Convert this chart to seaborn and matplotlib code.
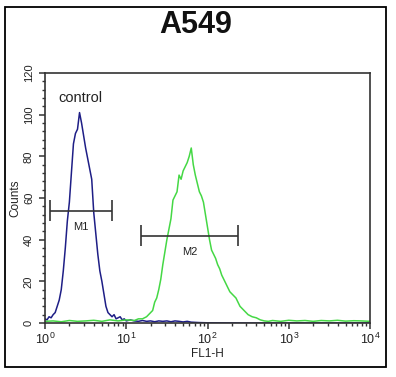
import matplotlib
matplotlib.use("Agg")
import matplotlib.pyplot as plt
import seaborn as sns
import pandas as pd
from matplotlib.patches import Rectangle
from matplotlib.ticker import FixedLocator, MultipleLocator, LogLocator, NullFormatter

# ---------------- data ----------------
title = "A549"
x_label = "FL1-H"
y_label = "Counts"
control_label = "control"

ctrl_fl = [1.000, 1.059, 1.122, 1.189, 1.259, 1.334, 1.413, 1.496, 1.585, 1.679,
           1.778, 1.884, 1.995, 2.113, 2.239, 2.371, 2.512, 2.661, 2.818, 2.985,
           3.162, 3.350, 3.548, 3.758, 3.981, 4.217, 4.467, 4.732, 5.012, 5.309,
           5.623, 5.957, 6.310, 6.683, 7.079, 7.499, 7.943, 8.414, 8.913, 9.441,
           10.00, 11.22, 12.59, 14.13, 15.85, 17.78, 19.95, 22.39, 25.12, 28.18,
           31.62, 35.48, 39.81, 44.67, 50.12, 56.23, 63.10, 79.43, 100.0, 316.2, 10000.0]
ctrl_counts = [2, 1.5, 3, 2.5, 4, 5, 8, 11, 16, 25,
               36, 49, 58, 72, 86, 91, 93, 101, 96, 90,
               84, 79, 74, 69, 53, 43, 33, 25, 20, 14,
               8, 5, 4, 3, 4, 2, 2.5, 3, 1.5, 2,
               1, 1.5, 1, 0.8, 1.2, 0.8, 1, 0.6, 1, 0.8,
               1, 0.6, 1, 0.8, 0.5, 0.8, 0.4, 0.2, 0.1, 0, 0]

samp_fl = [1.000, 1.259, 1.585, 1.995, 2.512, 3.162, 3.981, 5.012, 6.310, 7.943,
           10.00, 12.59, 14.13, 15.85, 17.78, 19.95, 21.13, 22.39, 23.71, 25.12,
           26.61, 28.18, 29.85, 31.62, 33.50, 35.48, 37.58, 39.81, 42.17, 44.67,
           47.32, 50.12, 53.09, 56.23, 59.57, 63.10, 66.83, 70.79, 74.99, 79.43,
           84.14, 89.13, 94.41, 100.0, 105.9, 112.2, 118.9, 125.9, 133.4, 141.3,
           149.6, 158.5, 167.9, 177.8, 188.4, 199.5, 211.3, 223.9, 237.1, 251.2,
           266.1, 281.8, 298.5, 316.2, 354.8, 398.1, 446.7, 501.2, 562.3, 631.0,
           794.3, 1000.0, 1259.0, 1585.0, 1995.0, 2512.0, 3162.0, 3981.0, 5012.0, 6310.0,
           7943.0, 10000.0]
samp_counts = [0.8, 1, 0.6, 1.2, 0.8, 1, 1.3, 0.8, 1.5, 1,
               1.5, 1.2, 2, 2, 3, 5, 6, 10, 12, 16,
               21, 28, 34, 40, 45, 50, 59, 61, 63, 71,
               69, 73, 75, 77, 80, 84, 76, 71, 67, 63,
               61, 58, 52, 46, 40, 35, 33, 31, 28, 26,
               23, 21, 19, 17, 15, 14, 13, 12, 10, 8,
               7, 6, 5, 4, 3, 2.5, 1.5, 1, 0.8, 1.2,
               0.8, 1.3, 1, 1.2, 0.8, 1.2, 1, 1.3, 0.9, 1.1,
               1.0, 0.8]

gate_names = ["M1", "M2"]
gate_lo = [1.15, 15.2]
gate_hi = [6.68, 237.0]
gate_y = [54, 42]

x_ticks = [1, 10, 100, 1000, 10000]
x_tick_labels = [r"$10^{0}$", r"$10^{1}$", r"$10^{2}$", r"$10^{3}$", r"$10^{4}$"]
y_ticks = [0, 20, 40, 60, 80, 100, 120]
y_tick_labels = ["0", "20", "40", "60", "80", "100", "120"]

# ---------------- style ----------------
sns.set_style("ticks")
plt.rcParams['font.family'] = ['Liberation Sans', 'DejaVu Sans']
plt.rcParams['mathtext.fontset'] = 'custom'
plt.rcParams['mathtext.rm'] = 'Liberation Sans'
plt.rcParams['mathtext.it'] = 'Liberation Sans'

W, H = 396, 377
fig = plt.figure(figsize=(W / 100, H / 100), dpi=100)
fig.patch.set_facecolor("white")
ax = fig.add_axes([45 / W, (H - 323) / H, 325 / W, 250 / H])

ctrl_df = pd.DataFrame({"fl": ctrl_fl, "counts": ctrl_counts})
samp_df = pd.DataFrame({"fl": samp_fl, "counts": samp_counts})

blue = "#1e1e86"
green = "#45d845"
sns.lineplot(data=ctrl_df, x="fl", y="counts", ax=ax, color=blue, lw=1.1,
             estimator=None, sort=False)
sns.lineplot(data=samp_df, x="fl", y="counts", ax=ax, color=green, lw=1.1,
             estimator=None, sort=False)

ax.set_xscale("log")
ax.set_xlim(1, 10000)
ax.set_ylim(0, 120)

# gates
gate_col = "#333333"
for name, lo, hi, y in zip(gate_names, gate_lo, gate_hi, gate_y):
    ax.hlines(y, lo, hi, color=gate_col, lw=1.2)
    ax.vlines([lo, hi], y - 5, y + 5, color=gate_col, lw=1.2)
    ax.text((lo * hi) ** 0.5, y - 8, name, ha="center", va="center",
            fontsize=8, color="#222222")

ax.text(2.7, 108, control_label, ha="center", va="center", fontsize=10.5, color="#222222")

# axes styling
for s in ax.spines.values():
    s.set_color("#333333")
    s.set_linewidth(1.2)
ax.xaxis.set_major_locator(FixedLocator(x_ticks))
ax.set_xticklabels(x_tick_labels)
ax.xaxis.set_minor_locator(LogLocator(base=10, subs=[2, 3, 4, 5, 6, 7, 8, 9]))
ax.xaxis.set_minor_formatter(NullFormatter())
ax.yaxis.set_major_locator(FixedLocator(y_ticks))
ax.set_yticklabels(y_tick_labels, rotation=90, va="center")
ax.yaxis.set_minor_locator(MultipleLocator(4))
ax.tick_params(which="major", length=4, width=1.1, color="#333333", labelcolor="#222222")
ax.tick_params(which="minor", length=2.5, width=1.0, color="#333333")
ax.tick_params(axis="x", which="major", pad=2, labelsize=9)
ax.tick_params(axis="y", which="major", pad=4, labelsize=8)
ax.set_xlabel(x_label, fontsize=8.5, labelpad=1, color="#222222")
ax.set_ylabel(y_label, fontsize=8.5, labelpad=2, color="#222222")

fig.text(196 / W, 1 - 25 / H, title, ha="center", va="center",
         fontsize=22, fontweight="bold", color="#111111")
fig.add_artist(Rectangle((5 / W, (H - 367) / H), 381 / W, 360 / H,
                         transform=fig.transFigure, fill=False, lw=1.3, color="black"))

fig.savefig("out.png", dpi=100, facecolor="white")
